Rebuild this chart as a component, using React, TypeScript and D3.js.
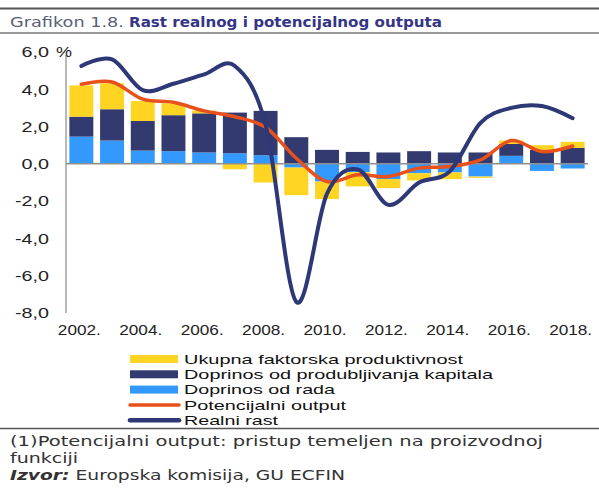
import React from "react";
import * as d3 from "d3";

const years = [2002, 2003, 2004, 2005, 2006, 2007, 2008, 2009, 2010, 2011, 2012, 2013, 2014, 2015, 2016, 2017, 2018];
const tfp = [1.68, 1.39, 1.07, 0.64, 0.15, -0.29, -1.0, -1.48, -0.94, -0.76, -0.48, -0.39, -0.36, -0.07, 0.18, 0.25, 0.32];
const capital = [1.07, 1.68, 1.59, 1.93, 2.1, 2.18, 2.38, 1.43, 0.75, 0.64, 0.61, 0.68, 0.61, 0.61, 0.64, 0.75, 0.86];
const labour = [1.46, 1.25, 0.71, 0.68, 0.61, 0.57, 0.46, -0.2, -0.95, -0.45, -0.82, -0.5, -0.46, -0.68, 0.43, -0.38, -0.25];
const potential = [4.27, 4.39, 3.47, 3.3, 2.84, 2.53, 1.96, 0.3, -0.95, -0.59, -0.68, -0.23, -0.14, 0.21, 1.25, 0.66, 0.96];
const realGrowth = [5.25, 5.6, 3.95, 4.3, 4.8, 5.25, 2.1, -7.4, -1.6, -0.3, -2.2, -1.0, -0.4, 2.2, 3.0, 3.1, 2.45];
const yTicks = [6, 4, 2, 0, -2, -4, -6, -8];
const xTickYears = [2002, 2004, 2006, 2008, 2010, 2012, 2014, 2016, 2018];

const legendLabels = [
  "Ukupna faktorska produktivnost",
  "Doprinos od produbljivanja kapitala",
  "Doprinos od rada",
  "Potencijalni output",
  "Realni rast",
];
const legendColors = ["#FFD423", "#333A70", "#3399FF", "#E8511C", "#2E3876"];
const legendKinds = ["bar", "bar", "bar", "line", "line"];
const legendWidths = [279, 309, 151, 162, 94];

const seriesKeys = ["labour", "capital", "tfp"];
const seriesColors: Record<string, string> = { labour: "#3399FF", capital: "#333A70", tfp: "#FFD423" };

export default function App() {
  const W = 599, H = 489;
  const x = d3.scaleBand<number>().domain(years).range([66, 588]).paddingInner(0.22).paddingOuter(0.11);
  const y = d3.scaleLinear().domain([-8, 6]).range([313, 52]);
  const rows = years.map((yr, i) => ({ year: yr, labour: labour[i], capital: capital[i], tfp: tfp[i] }));
  const stacked = d3.stack<any>().keys(seriesKeys).offset(d3.stackOffsetDiverging)(rows);
  const cx = (yr: number) => (x(yr) as number) + x.bandwidth() / 2;
  const line = d3.line<number>().x((_, i) => cx(years[i])).y((v) => y(v)).curve(d3.curveCardinal.tension(0));
  const font = "'Liberation Sans', Arial, sans-serif";
  const gothic = "'DejaVu Sans', sans-serif";

  return (
    <svg width={W} height={H} style={{ position: "absolute", left: 0, top: 0, background: "#fff" }}>
      {/* title */}
      <line x1={0} x2={W} y1={8.5} y2={8.5} stroke="#555" strokeWidth={2} />
      <text x={10} y={27} fontFamily={gothic} fontSize={13.5} fill="#5a5f7a" textLength={114} lengthAdjust="spacingAndGlyphs">Grafikon 1.8.</text>
      <text x={129} y={27} fontFamily={gothic} fontSize={13.5} fontWeight="bold" fill="#343587" textLength={313} lengthAdjust="spacingAndGlyphs">Rast realnog i potencijalnog outputa</text>
      <line x1={0} x2={W} y1={33} y2={33} stroke="#777" strokeWidth={1.5} />

      {/* bars */}
      {stacked.map((s) => (
        <g key={s.key} fill={seriesColors[s.key]}>
          {s.map((d, i) => (
            <rect key={i} x={x(years[i])} width={x.bandwidth()} y={y(Math.max(d[0], d[1]))} height={Math.abs(y(d[0]) - y(d[1]))} />
          ))}
        </g>
      ))}

      {/* axes */}
      <line x1={66} x2={66} y1={55} y2={313} stroke="#a0a0a0" strokeWidth={1.5} />
      <line x1={66} x2={588} y1={y(0)} y2={y(0)} stroke="#909090" strokeWidth={1.5} />
      {yTicks.map((t) => {
        const s = d3.format(".1f")(t).replace(".", ",").replace("−", "-");
        return (
          <text key={t} x={49} y={y(t)} dy="0.36em" textAnchor="end" fontFamily={font} fontSize={14.5} fill="#222"
            textLength={t < 0 ? 34 : 27.5} lengthAdjust="spacingAndGlyphs">
            {s}
          </text>
        );
      })}
      <text x={56} y={y(6)} dy="0.36em" fontFamily={font} fontSize={14.5} fill="#222" textLength={16} lengthAdjust="spacingAndGlyphs">%</text>
      {xTickYears.map((yr) => (
        <text key={yr} x={cx(yr) - 2} y={335} textAnchor="middle" fontFamily={font} fontSize={15} fill="#222"
          textLength={43} lengthAdjust="spacingAndGlyphs">{yr}.</text>
      ))}

      {/* lines */}
      <path d={line(potential) || ""} fill="none" stroke="#E8511C" strokeWidth={3.5} strokeLinecap="round" />
      <path d={line(realGrowth) || ""} fill="none" stroke="#2E3876" strokeWidth={4} strokeLinecap="round" />

      {/* legend */}
      {legendLabels.map((label, i) => {
        const cy = 359 + i * 15.3;
        return (
          <g key={label}>
            {legendKinds[i] === "bar" ? (
              <rect x={130} y={cy - 4} width={48} height={8} fill={legendColors[i]} />
            ) : (
              <line x1={130} x2={179} y1={cy} y2={cy} stroke={legendColors[i]} strokeWidth={i === 4 ? 4.5 : 3.5} strokeLinecap="round" />
            )}
            <text x={184} y={cy} dy="0.36em" fontFamily={font} fontSize={13.5} fill="#111"
              textLength={legendWidths[i]} lengthAdjust="spacingAndGlyphs">{label}</text>
          </g>
        );
      })}
      <line x1={0} x2={W} y1={428.5} y2={428.5} stroke="#555" strokeWidth={1.5} />

      {/* footnote */}
      <text x={10} y={446} fontFamily={gothic} fontSize={14} fill="#333" textLength={533} lengthAdjust="spacingAndGlyphs">(1)Potencijalni output: pristup temeljen na proizvodnoj</text>
      <text x={10} y={463} fontFamily={gothic} fontSize={14} fill="#333" textLength={68} lengthAdjust="spacingAndGlyphs">funkciji</text>
      <text x={10} y={480} fontFamily={gothic} fontSize={14} fill="#333" textLength={335} lengthAdjust="spacingAndGlyphs">
        <tspan fontWeight="bold" fontStyle="italic">Izvor:</tspan> Europska komisija, GU ECFIN
      </text>
    </svg>
  );
}
